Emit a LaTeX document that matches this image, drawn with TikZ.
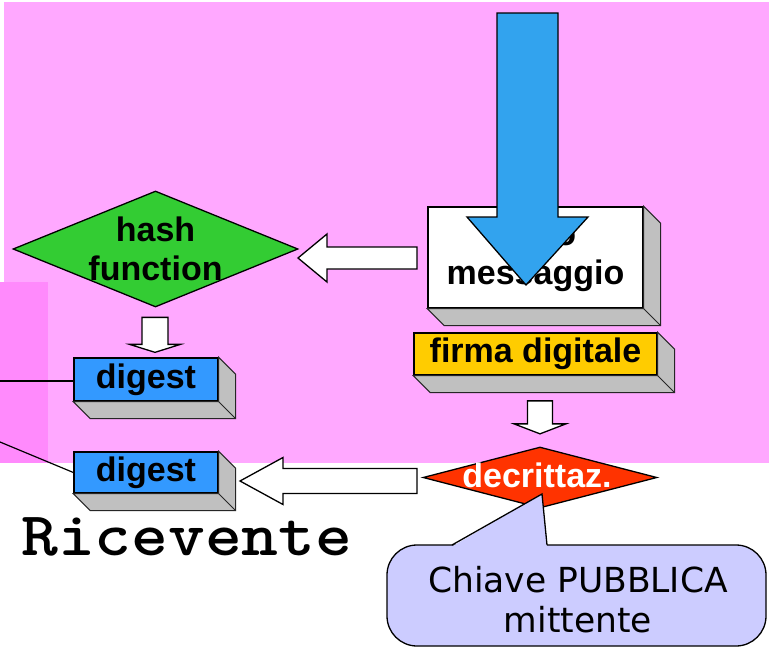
\documentclass[tikz,border=0pt]{standalone}
\usepackage{fontspec}
\setmainfont{Liberation Sans}
\newfontfamily\verdfont{DejaVu Sans}
\usetikzlibrary{shapes.geometric,calc}
\definecolor{pinkbg}{RGB}{255,168,255}
\definecolor{pinkdark}{RGB}{255,138,252}
\definecolor{arrowblue}{RGB}{50,163,238}
\definecolor{digblue}{RGB}{51,153,255}
\definecolor{hashgreen}{RGB}{51,204,51}
\definecolor{firmayellow}{RGB}{255,204,0}
\definecolor{decred}{RGB}{255,51,0}
\definecolor{boxgray}{RGB}{192,192,192}
\definecolor{lavender}{RGB}{204,204,255}
\newcommand\extrudebox[1]{%
  \filldraw[extr] (#1.north east) -- ++(17,17) -- ($(#1.south east)+(17,17)$)
    -- ($(#1.south west)+(17,17)$) -- (#1.south west) -- (#1.south east) -- cycle;
  \draw[extr] (#1.south east) -- ++(17,17);}
\begin{document}
\begin{tikzpicture}[x=1pt,y=-1pt,
  lab/.style={font=\fontsize{34}{39}\selectfont\bfseries, inner sep=0pt, align=center},
  boxthree/.style={draw=black, line width=1.3pt, inner sep=0pt, align=center,
    font=\fontsize{34}{39}\selectfont\bfseries},
  extr/.style={fill=boxgray, draw=black!85, line width=1pt, line join=miter},
  dia/.style={diamond, draw=black, line width=1.3pt, inner sep=0pt},
  blockarrow/.style={fill=white, draw=black, line width=1.3pt, line join=miter},
  bigarrow/.style={fill=arrowblue, draw=black, line width=1.3pt, line join=miter},
  wire/.style={draw=black, line width=1.2pt}]
\useasboundingbox (0,0) rectangle (769,648);
\fill[white] (0,0) rectangle (769,648);
\fill[pinkbg] (4,2) rectangle (769,463);
\fill[pinkdark] (0,282) rectangle (48,463);

% boxes
\node[boxthree, fill=white, minimum width=215pt, minimum height=101pt] (msg) at (535.5,257.5) {testo\\messaggio};
\extrudebox{msg}
\node[boxthree, fill=firmayellow, minimum width=243pt, minimum height=42pt] (firma) at (535.5,354) {firma digitale};
\extrudebox{firma}
\node[boxthree, fill=digblue, minimum width=144pt, minimum height=43pt] (dig1) at (146,379.5) {digest};
\extrudebox{dig1}
\node[boxthree, fill=digblue, minimum width=144pt, minimum height=41pt] (dig2) at (146,472.5) {digest};
\extrudebox{dig2}

% diamonds
\node[dia, fill=hashgreen, minimum width=285pt, minimum height=116pt] (hash) at (155.5,249) {};
\node[lab] (hashtxt) at (hash.center) {hash\\function};
\node[dia, fill=decred, minimum width=234pt, minimum height=61pt] (decr) at (540,477.5) {};
\node[lab, text=white] (decrtxt) at (537,475) {decrittaz.};

% wires from the left
\coordinate (w1) at (0,381);
\coordinate (w2) at (0,442);
\draw[wire] (w1) -- (w1 -| dig1.west);
\draw[wire] (w2) -- (dig2.west);

% block arrows
\coordinate (t1) at (298,258);
\draw[blockarrow] (t1) -- ++(29,-24) -- ++(0,13) -- ++(90,0) -- ++(0,22) -- ++(-90,0) -- ++(0,13) -- cycle;
\coordinate (t2) at (240,481);
\draw[blockarrow] (t2) -- ++(43,-23.5) -- ++(0,11) -- ++(134,0) -- ++(0,25) -- ++(-134,0) -- ++(0,11) -- cycle;
\coordinate (t3) at ($(dig1.north)+(9,-5)$);
\draw[blockarrow] (t3) -- ++(-25.5,-8) -- ++(12.5,0) -- ++(0,-27) -- ++(26,0) -- ++(0,27) -- ++(12.5,0) -- cycle;
\coordinate (t4) at ($(decr.north)+(0,-12.5)$);
\draw[blockarrow] (t4) -- ++(-26,-10) -- ++(13.5,0) -- ++(0,-23) -- ++(25,0) -- ++(0,23) -- ++(13.5,0) -- cycle;

% big blue arrow into the message
\coordinate (bt) at (526,285);
\draw[bigarrow] (497,13) -- (558,13) -- (558,217) -- (588,217) -- (bt) -- (467,217) -- (497,217) -- cycle;

% callout
\node[draw=black, line width=1.3pt, fill=lavender, rounded corners=30pt,
  minimum width=379pt, minimum height=101pt, inner sep=0pt] (key) at (576.5,595.5) {};
\coordinate (ktip) at (542,494);
\fill[lavender] (452,546.5) -- (ktip) -- (547,546.5) -- cycle;
\draw[line width=1.3pt, line join=miter] (452,545) -- (ktip) -- (547,545);
\node[inner sep=0pt, align=center, font=\verdfont\fontsize{34.5}{40}\selectfont] (keytxt) at (578,600) {Chiave PUBBLICA\\mittente};

% receiver label
\node[anchor=base west, inner sep=0pt, xscale=1.13, transform shape, font=\ttfamily\bfseries\fontsize{62}{62}\selectfont] (ric) at (21,555) {Ricevente};
\end{tikzpicture}
\end{document}
